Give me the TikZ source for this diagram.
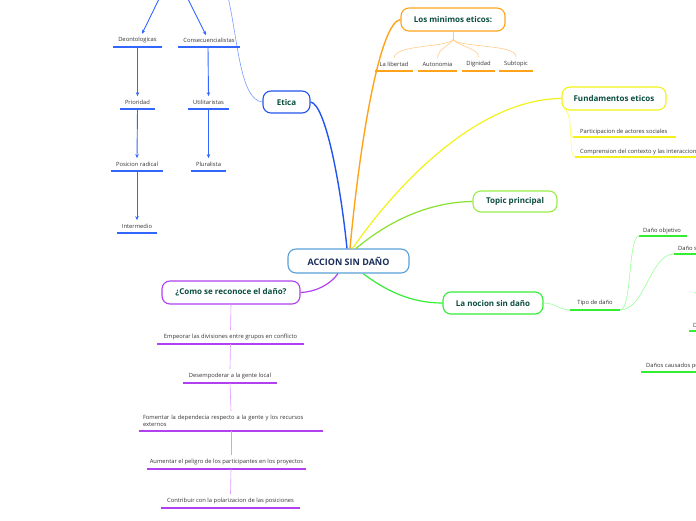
\documentclass[tikz,border=0pt]{standalone}
\usepackage{fontspec}
\setmainfont{Open Sans}
\usetikzlibrary{arrows.meta,calc}
\definecolor{tgreen}{HTML}{0B4D3F}
\definecolor{navy}{HTML}{1A2F5A}
\definecolor{txtgray}{HTML}{333333}
\definecolor{cblue}{HTML}{5AA0D8}
\definecolor{eblue}{HTML}{2255EE}
\definecolor{ablue}{HTML}{3366FF}
\definecolor{lblue}{HTML}{7799FF}
\definecolor{orng}{HTML}{FFA31A}
\definecolor{lorng}{HTML}{FFCC88}
\definecolor{yel}{HTML}{F2F21A}
\definecolor{lyel}{HTML}{FFFF77}
\definecolor{tgrn}{HTML}{99EE44}
\definecolor{tgrnc}{HTML}{88E030}
\definecolor{ngrn}{HTML}{33EE33}
\definecolor{lgrn}{HTML}{99FF99}
\definecolor{purp}{HTML}{B040F0}
\definecolor{lpurp}{HTML}{DD99FF}
\newcommand\mysub[5]{\node[sub,minimum width=#3pt] (#1) at (#2) {#5};
  \draw[uline,#4] (#1.south west) -- (#1.south east);}
\begin{document}
\begin{tikzpicture}[x=1pt,y=-1pt,
  topic/.style={draw, rounded corners=8pt, line width=1.1pt, fill=white,
    font=\bfseries\fontsize{8}{9}\selectfont, text=tgreen, inner sep=0pt, minimum height=22pt},
  sub/.style={font=\fontsize{5.8}{7}\selectfont, text=txtgray, inner xsep=0pt, inner ysep=4pt, anchor=south},
  subl/.style={font=\fontsize{5.8}{7}\selectfont, text=txtgray, inner sep=0pt, anchor=base west},
  uline/.style={line width=1.2pt},
  arr/.style={-{Stealth[length=4pt,width=3.5pt]}, line width=0.9pt, ablue}]
\useasboundingbox (0,0) rectangle (696,520);
\clip (0,0) rectangle (696,520);

% main boxes
\node[topic, draw=cblue, text=navy, font=\bfseries\fontsize{9}{10}\selectfont, minimum width=121pt, minimum height=24pt] (acc) at (348.5,261) {ACCION SIN DAÑO};
\node[topic, draw=eblue, minimum width=47pt] (etica) at (286.5,102) {Etica};
\node[topic, draw=orng, minimum width=104pt, minimum height=23pt] (minimos) at (453,19.5) {Los minimos eticos:};
\node[topic, draw=yel, minimum width=104pt, minimum height=23pt] (fund) at (614,98.5) {Fundamentos eticos};
\node[topic, draw=tgrn, minimum width=84pt, minimum height=21pt] (topic) at (515,201.5) {Topic principal};
\node[topic, draw=ngrn, minimum width=100pt] (nocion) at (493,303) {La nocion sin daño};
\node[topic, draw=purp, minimum width=138pt, minimum height=23pt] (como) at (231,292.5) {¿Como se reconoce el daño?};

% connectors from centre
\coordinate (cE) at ($(acc.north)+(-1.5,0)$);
\coordinate (cM) at ($(acc.north)+(1.5,0)$);
\coordinate (cF) at ($(acc.north)+(4,0)$);
\coordinate (cT) at ($(acc.north)+(7.5,0)$);
\coordinate (cN) at ($(acc.south)+(14.5,0)$);
\coordinate (cC) at ($(acc.south)+(-10.5,0)$);
\draw[line width=1.4pt, eblue] (etica.east) .. controls (325,104) and (340,180) .. (cE);
\draw[line width=1.4pt, orng] (cM) .. controls (360,140) and (380,22) .. (minimos.west);
\draw[line width=1.2pt, yel] (cF) .. controls (400,180) and (480,99) .. (fund.west);
\draw[line width=1.2pt, tgrnc] (cT) .. controls (390,220) and (430,202) .. (topic.west);
\draw[line width=1.2pt, ngrn] (cN) .. controls (385,290) and (410,303) .. (nocion.west);
\draw[line width=1.2pt, purp] (cC) .. controls (330,285) and (315,292) .. (como.east);

% Etica side
\coordinate (topE) at (228,-3);
\draw[line width=0.6pt, lblue] (etica.west) .. controls (240,100) and (238,40) .. (topE);
\mysub{deon}{137.5,47}{49}{ablue}{Deontologicas}
\mysub{cons}{209,47}{62}{ablue}{Consecuencialistas}
\mysub{prio}{137.5,109}{35}{ablue}{Prioridad}
\mysub{util}{208.5,109}{41}{ablue}{Utilitaristas}
\mysub{posi}{137,171}{52}{ablue}{Posicion radical}
\mysub{plur}{208.5,171}{35}{ablue}{Pluralista}
\mysub{inte}{137,233}{40}{ablue}{Intermedio}
\coordinate (topD) at (160,-3);
\coordinate (topC) at (187,-3);
\draw[arr] (topD) -- ($(deon.north)+(4.5,1)$);
\draw[arr] (topC) -- ($(cons.north)+(-3,1)$);
\draw[arr] (deon.south) -- (prio.north);
\draw[arr] (prio.south) -- (posi.north);
\draw[arr] (posi.south) -- (inte.north);
\draw[arr] ($(cons.south)+(-1,0)$) -- (util.north);
\draw[arr] (util.south) -- (plur.north);

% Los minimos eticos
\mysub{lib}{394,71}{38}{orng}{La libertad}
\mysub{aut}{437.5,71}{39}{orng}{Autonomia}
\mysub{dig}{478.5,71}{33}{orng}{Dignidad}
\mysub{subt}{516,71}{34}{orng}{Subtopic}
\coordinate (mj) at ($(minimos.south)+(0,8)$);
\draw[line width=0.6pt, lorng] (minimos.south) -- (mj);
\draw[line width=0.6pt, lorng] (mj) .. controls (446,48) and (395,44) .. (lib.north);
\draw[line width=0.6pt, lorng] (mj) .. controls (450,46) and (438,48) .. (aut.north);
\draw[line width=0.6pt, lorng] (mj) .. controls (458,46) and (478,48) .. (dig.north);
\draw[line width=0.6pt, lorng] (mj) .. controls (462,48) and (516,44) .. (subt.north);

% Fundamentos eticos
\node[subl] (part) at (580,133) {Participacion de actores sociales};
\node[subl] (comp) at (580,153) {Comprension del contexto y las interacciones};
\coordinate (pu1) at (573,137);
\coordinate (pu2) at (676,137);
\coordinate (qu1) at (575,157);
\coordinate (qu2) at (700,157);
\draw[uline, yel] (pu1) -- (pu2);
\draw[uline, yel] (qu1) -- (qu2);
\coordinate (fj) at ($(fund.south west)+(3,-1)$);
\draw[line width=0.6pt, lyel] (fj) .. controls (574,114) and (567,137) .. (pu1);
\draw[line width=0.6pt, lyel] (fj) .. controls (574,114) and (568,157) .. (qu1);

% La nocion sin daño
\mysub{tipo}{595,310}{50}{ngrn}{Tipo de daño}
\draw[line width=0.6pt, lgrn] (nocion.east) .. controls (555,303) and (560,310) .. (tipo.south west);
\node[subl] (dobj) at (643,232) {Daño objetivo};
\node[subl] (dsub) at (678,250) {Daño subjetivo};
\node[subl] (dd) at (693,327) {Daños};
\node[subl] (dcau) at (646,367) {Daños causados por};
\coordinate (ou1) at (639,236); \coordinate (ou2) at (687,236);
\coordinate (su1) at (674,254); \coordinate (su2) at (700,254);
\coordinate (du1) at (689,331); \coordinate (du2) at (700,331);
\coordinate (cu1) at (641,372); \coordinate (cu2) at (700,372);
\draw[uline, ngrn] (ou1) -- (ou2);
\draw[uline, ngrn] (su1) -- (su2);
\draw[uline, ngrn] (du1) -- (du2);
\draw[uline, ngrn] (cu1) -- (cu2);
\draw[line width=0.6pt, lgrn] (tipo.south east) .. controls (632,310) and (628,236) .. (ou1);
\draw[line width=0.6pt, lgrn] (tipo.south east) .. controls (645,310) and (650,254) .. (su1);
\coordinate (tk1) at (694,293); \coordinate (tk2) at (698,292);
\draw[line width=0.6pt, lgrn] (tk1) -- (tk2);

% ¿Como se reconoce el daño?
\mysub{emp}{230.5,344}{147}{purp}{Empeorar las divisiones entre grupos en conflicto}
\mysub{des}{230,383}{94}{purp}{Desempoderar a la gente local}
\node[sub, text width=176pt, align=left, inner xsep=4pt] (fom) at (231,431) {Fomentar la dependecia respecto a la gente y los recursos\\externos};
\draw[uline, purp] (fom.south west) -- (fom.south east);
\mysub{aum}{226.5,469}{159}{purp}{Aumentar el peligro de los participantes en los proyectos}
\mysub{con}{230.5,508}{139}{purp}{Contribuir con la polarizacion de las posiciones}
\draw[line width=0.6pt, lpurp] (como.south) -- (emp.north);
\draw[line width=0.6pt, lpurp] (emp.south) -- (des.north);
\draw[line width=0.6pt, lpurp] (des.south) -- (fom.north);
\draw[line width=0.6pt, lpurp] (fom.south) -- ($(aum.north)+(4.5,0)$);
\draw[line width=0.6pt, lpurp] ($(aum.south)+(4.5,0)$) -- (con.north);
\end{tikzpicture}
\end{document}
